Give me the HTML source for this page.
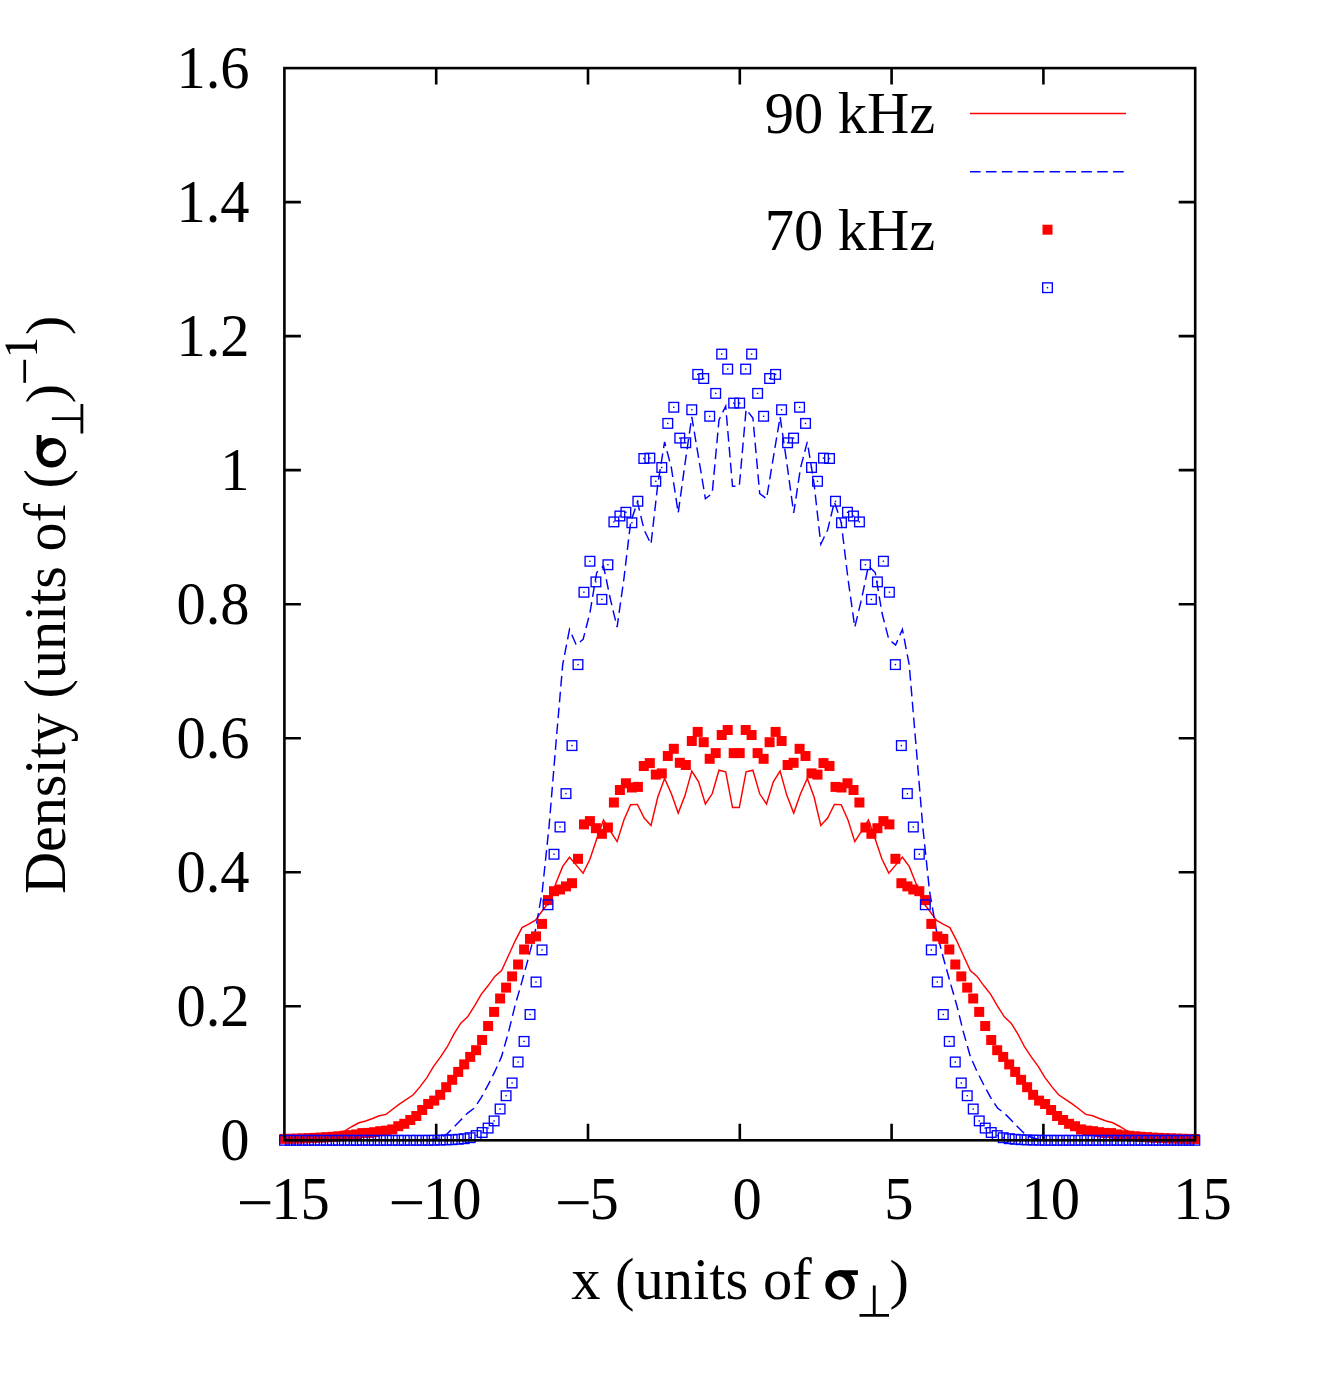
<!DOCTYPE html>
<html><head><meta charset="utf-8"><title>Density</title>
<style>html,body{margin:0;padding:0;background:#fff}svg{display:block}text{font-family:"Liberation Serif",serif;fill:#000;font-kerning:none;font-variant-ligatures:none;white-space:pre}</style></head>
<body>
<svg width="1329" height="1384" viewBox="0 0 1329 1384">
<rect width="1329" height="1384" fill="#fff"/>
<path d="M284.4 1006.27h16.5M1195.2 1006.27h-16.5M284.4 872.25h16.5M1195.2 872.25h-16.5M284.4 738.22h16.5M1195.2 738.22h-16.5M284.4 604.20h16.5M1195.2 604.20h-16.5M284.4 470.17h16.5M1195.2 470.17h-16.5M284.4 336.15h16.5M1195.2 336.15h-16.5M284.4 202.12h16.5M1195.2 202.12h-16.5M436.20 1140.3v-16.5M436.20 68.1v16.5M588.00 1140.3v-16.5M588.00 68.1v16.5M739.80 1140.3v-16.5M739.80 68.1v16.5M891.60 1140.3v-16.5M891.60 68.1v16.5M1043.40 1140.3v-16.5M1043.40 68.1v16.5" stroke="#000" fill="none" stroke-width="2.6"/>
<polyline points="284.2,1138.8 291.0,1138.3 297.8,1137.7 304.6,1137.0 311.4,1136.2 318.2,1135.5 325.0,1134.5 331.8,1133.5 338.5,1132.5 345.3,1130.6 352.1,1126.5 358.9,1122.8 365.7,1121.0 372.5,1118.5 379.3,1115.8 386.1,1114.4 392.9,1109.0 399.7,1103.8 406.5,1099.4 413.3,1094.8 420.1,1086.6 426.9,1077.6 433.6,1066.3 440.4,1057.2 447.2,1047.0 454.0,1033.8 460.8,1023.1 467.6,1016.9 474.4,1006.2 481.2,994.4 488.0,985.8 494.8,976.4 501.6,970.5 508.4,955.8 515.2,940.8 522.0,927.6 528.7,924.2 535.5,920.1 542.3,910.8 549.1,902.0 555.9,883.2 562.7,866.4 569.5,857.2 576.3,865.1 583.1,873.1 589.9,859.2 596.7,839.0 603.5,820.0 610.3,831.2 617.1,841.6 623.9,820.0 630.6,804.8 637.4,804.4 644.2,818.1 651.0,825.4 657.8,797.0 664.6,778.5 671.4,793.8 678.2,813.1 685.0,795.6 691.8,771.0 698.6,781.9 705.4,804.0 712.2,793.8 719.0,770.2 725.7,771.9 732.5,807.5 739.3,807.5 746.1,771.9 752.9,770.2 759.7,793.8 766.5,804.0 773.3,781.9 780.1,771.0 786.9,795.6 793.7,813.1 800.5,793.8 807.3,778.5 814.1,797.0 820.8,825.4 827.6,818.1 834.4,804.4 841.2,804.8 848.0,820.0 854.8,841.6 861.6,831.2 868.4,820.0 875.2,839.0 882.0,859.2 888.8,873.1 895.6,865.1 902.4,857.2 909.2,866.4 915.9,883.2 922.7,902.0 929.5,910.8 936.3,920.1 943.1,924.2 949.9,927.6 956.7,940.8 963.5,955.8 970.3,970.5 977.1,976.4 983.9,985.8 990.7,994.4 997.5,1006.2 1004.3,1016.9 1011.1,1023.1 1017.8,1033.8 1024.6,1047.0 1031.4,1057.2 1038.2,1066.3 1045.0,1077.6 1051.8,1086.6 1058.6,1094.8 1065.4,1099.4 1072.2,1103.8 1079.0,1109.0 1085.8,1114.4 1092.6,1115.8 1099.4,1118.5 1106.2,1121.0 1112.9,1122.8 1119.7,1126.5 1126.5,1130.6 1133.3,1132.5 1140.1,1133.5 1146.9,1134.5 1153.7,1135.5 1160.5,1136.2 1167.3,1137.0 1174.1,1137.7 1180.9,1138.3 1187.7,1138.8 1194.5,1139.0" fill="none" stroke="#ff0000" stroke-width="1.45" stroke-linejoin="miter"/>
<line x1="970" y1="113.5" x2="1126" y2="113.5" stroke="#ff0000" stroke-width="1.45"/>
<polyline points="284.2,1140.3 291.0,1140.3 297.8,1140.3 304.6,1140.3 311.4,1140.3 318.2,1140.3 325.0,1140.3 331.8,1140.3 338.5,1140.3 345.3,1140.3 352.1,1140.3 358.9,1140.3 365.7,1140.3 372.5,1140.3 379.3,1140.3 386.1,1140.3 392.9,1140.3 399.7,1140.3 406.5,1140.3 413.3,1140.3 420.1,1140.0 426.9,1139.7 433.6,1139.2 440.4,1137.5 447.2,1133.8 454.0,1126.9 460.8,1120.0 467.6,1113.1 474.4,1108.0 481.2,1097.6 488.0,1085.1 494.8,1071.7 501.6,1056.4 508.4,1032.5 515.2,1005.0 522.0,981.4 528.7,957.0 535.5,930.1 542.3,890.8 549.1,826.0 555.9,744.0 562.7,664.6 569.5,629.4 576.3,645.0 583.1,639.4 589.9,613.0 596.7,572.5 603.5,566.0 610.3,598.8 617.1,627.2 623.9,578.8 630.6,522.5 637.4,501.9 644.2,530.0 651.0,544.2 657.8,484.0 664.6,441.9 671.4,468.0 678.2,513.0 685.0,463.6 691.8,416.9 698.6,457.8 705.4,498.8 712.2,493.5 719.0,420.0 725.7,406.2 732.5,486.2 739.3,486.2 746.1,409.4 752.9,418.0 759.7,493.5 766.5,498.8 773.3,457.8 780.1,416.9 786.9,463.6 793.7,513.0 800.5,468.0 807.3,441.9 814.1,484.0 820.8,544.2 827.6,530.0 834.4,501.9 841.2,522.5 848.0,578.8 854.8,627.2 861.6,598.8 868.4,566.0 875.2,572.5 882.0,613.0 888.8,639.4 895.6,645.0 902.4,629.4 909.2,664.6 915.9,744.0 922.7,826.0 929.5,890.8 936.3,930.1 943.1,957.0 949.9,981.4 956.7,1005.0 963.5,1032.5 970.3,1056.4 977.1,1071.7 983.9,1085.1 990.7,1097.6 997.5,1108.0 1004.3,1113.1 1011.1,1120.0 1017.8,1126.9 1024.6,1133.8 1031.4,1137.5 1038.2,1139.2 1045.0,1139.7 1051.8,1140.0 1058.6,1140.3 1065.4,1140.3 1072.2,1140.3 1079.0,1140.3 1085.8,1140.3 1092.6,1140.3 1099.4,1140.3 1106.2,1140.3 1112.9,1140.3 1119.7,1140.3 1126.5,1140.3 1133.3,1140.3 1140.1,1140.3 1146.9,1140.3 1153.7,1140.3 1160.5,1140.3 1167.3,1140.3 1174.1,1140.3 1180.9,1140.3 1187.7,1140.3 1194.5,1140.3" fill="none" stroke="#0000ff" stroke-width="1.45" stroke-dasharray="10.6,5.3" stroke-linejoin="miter"/>
<line x1="970" y1="171.7" x2="1126" y2="171.7" stroke="#0000ff" stroke-width="1.45" stroke-dasharray="10.6,5.3"/>
<g fill="#ff0000">
<rect x="279.5" y="1133.9" width="10.0" height="10.0"/>
<rect x="285.5" y="1133.8" width="10.0" height="10.0"/>
<rect x="291.5" y="1133.6" width="10.0" height="10.0"/>
<rect x="297.5" y="1133.4" width="10.0" height="10.0"/>
<rect x="303.5" y="1133.2" width="10.0" height="10.0"/>
<rect x="309.4" y="1132.9" width="10.0" height="10.0"/>
<rect x="315.4" y="1132.6" width="10.0" height="10.0"/>
<rect x="321.4" y="1132.2" width="10.0" height="10.0"/>
<rect x="327.4" y="1131.8" width="10.0" height="10.0"/>
<rect x="333.4" y="1131.3" width="10.0" height="10.0"/>
<rect x="339.4" y="1130.8" width="10.0" height="10.0"/>
<rect x="345.4" y="1130.2" width="10.0" height="10.0"/>
<rect x="351.4" y="1129.4" width="10.0" height="10.0"/>
<rect x="357.4" y="1128.1" width="10.0" height="10.0"/>
<rect x="363.3" y="1127.9" width="10.0" height="10.0"/>
<rect x="369.3" y="1127.2" width="10.0" height="10.0"/>
<rect x="375.3" y="1126.2" width="10.0" height="10.0"/>
<rect x="381.3" y="1125.6" width="10.0" height="10.0"/>
<rect x="387.3" y="1124.4" width="10.0" height="10.0"/>
<rect x="393.3" y="1121.2" width="10.0" height="10.0"/>
<rect x="399.3" y="1118.8" width="10.0" height="10.0"/>
<rect x="405.3" y="1115.0" width="10.0" height="10.0"/>
<rect x="411.3" y="1111.0" width="10.0" height="10.0"/>
<rect x="417.2" y="1105.0" width="10.0" height="10.0"/>
<rect x="423.2" y="1099.0" width="10.0" height="10.0"/>
<rect x="429.2" y="1095.6" width="10.0" height="10.0"/>
<rect x="435.2" y="1089.8" width="10.0" height="10.0"/>
<rect x="441.2" y="1082.2" width="10.0" height="10.0"/>
<rect x="447.2" y="1074.8" width="10.0" height="10.0"/>
<rect x="453.2" y="1066.9" width="10.0" height="10.0"/>
<rect x="459.2" y="1059.4" width="10.0" height="10.0"/>
<rect x="465.2" y="1051.9" width="10.0" height="10.0"/>
<rect x="471.1" y="1045.2" width="10.0" height="10.0"/>
<rect x="477.1" y="1035.0" width="10.0" height="10.0"/>
<rect x="483.1" y="1021.0" width="10.0" height="10.0"/>
<rect x="489.1" y="1006.9" width="10.0" height="10.0"/>
<rect x="495.1" y="993.5" width="10.0" height="10.0"/>
<rect x="501.1" y="982.6" width="10.0" height="10.0"/>
<rect x="507.1" y="971.4" width="10.0" height="10.0"/>
<rect x="513.1" y="959.5" width="10.0" height="10.0"/>
<rect x="519.1" y="944.5" width="10.0" height="10.0"/>
<rect x="525.0" y="933.9" width="10.0" height="10.0"/>
<rect x="531.0" y="931.4" width="10.0" height="10.0"/>
<rect x="537.0" y="918.9" width="10.0" height="10.0"/>
<rect x="543.0" y="895.1" width="10.0" height="10.0"/>
<rect x="549.0" y="886.2" width="10.0" height="10.0"/>
<rect x="555.0" y="884.5" width="10.0" height="10.0"/>
<rect x="561.0" y="881.4" width="10.0" height="10.0"/>
<rect x="567.0" y="878.2" width="10.0" height="10.0"/>
<rect x="573.0" y="853.8" width="10.0" height="10.0"/>
<rect x="579.0" y="819.4" width="10.0" height="10.0"/>
<rect x="584.9" y="816.1" width="10.0" height="10.0"/>
<rect x="590.9" y="823.2" width="10.0" height="10.0"/>
<rect x="596.9" y="828.8" width="10.0" height="10.0"/>
<rect x="602.9" y="822.5" width="10.0" height="10.0"/>
<rect x="608.9" y="797.5" width="10.0" height="10.0"/>
<rect x="614.9" y="785.0" width="10.0" height="10.0"/>
<rect x="620.9" y="778.3" width="10.0" height="10.0"/>
<rect x="626.9" y="782.5" width="10.0" height="10.0"/>
<rect x="632.9" y="781.9" width="10.0" height="10.0"/>
<rect x="638.8" y="761.0" width="10.0" height="10.0"/>
<rect x="644.8" y="758.1" width="10.0" height="10.0"/>
<rect x="650.8" y="769.6" width="10.0" height="10.0"/>
<rect x="656.8" y="768.4" width="10.0" height="10.0"/>
<rect x="662.8" y="751.0" width="10.0" height="10.0"/>
<rect x="668.8" y="743.8" width="10.0" height="10.0"/>
<rect x="674.8" y="757.8" width="10.0" height="10.0"/>
<rect x="680.8" y="760.0" width="10.0" height="10.0"/>
<rect x="686.8" y="736.0" width="10.0" height="10.0"/>
<rect x="692.7" y="726.9" width="10.0" height="10.0"/>
<rect x="698.7" y="737.2" width="10.0" height="10.0"/>
<rect x="704.7" y="753.8" width="10.0" height="10.0"/>
<rect x="710.7" y="748.1" width="10.0" height="10.0"/>
<rect x="716.7" y="730.0" width="10.0" height="10.0"/>
<rect x="722.7" y="725.0" width="10.0" height="10.0"/>
<rect x="728.7" y="748.1" width="10.0" height="10.0"/>
<rect x="734.7" y="748.1" width="10.0" height="10.0"/>
<rect x="740.7" y="725.0" width="10.0" height="10.0"/>
<rect x="746.6" y="730.0" width="10.0" height="10.0"/>
<rect x="752.6" y="748.1" width="10.0" height="10.0"/>
<rect x="758.6" y="753.8" width="10.0" height="10.0"/>
<rect x="764.6" y="737.2" width="10.0" height="10.0"/>
<rect x="770.6" y="726.9" width="10.0" height="10.0"/>
<rect x="776.6" y="736.0" width="10.0" height="10.0"/>
<rect x="782.6" y="760.0" width="10.0" height="10.0"/>
<rect x="788.6" y="757.8" width="10.0" height="10.0"/>
<rect x="794.6" y="743.8" width="10.0" height="10.0"/>
<rect x="800.5" y="751.0" width="10.0" height="10.0"/>
<rect x="806.5" y="768.4" width="10.0" height="10.0"/>
<rect x="812.5" y="769.6" width="10.0" height="10.0"/>
<rect x="818.5" y="758.1" width="10.0" height="10.0"/>
<rect x="824.5" y="761.0" width="10.0" height="10.0"/>
<rect x="830.5" y="781.9" width="10.0" height="10.0"/>
<rect x="836.5" y="782.5" width="10.0" height="10.0"/>
<rect x="842.5" y="778.3" width="10.0" height="10.0"/>
<rect x="848.5" y="785.0" width="10.0" height="10.0"/>
<rect x="854.4" y="797.5" width="10.0" height="10.0"/>
<rect x="860.4" y="822.5" width="10.0" height="10.0"/>
<rect x="866.4" y="828.8" width="10.0" height="10.0"/>
<rect x="872.4" y="823.2" width="10.0" height="10.0"/>
<rect x="878.4" y="816.1" width="10.0" height="10.0"/>
<rect x="884.4" y="819.4" width="10.0" height="10.0"/>
<rect x="890.4" y="853.8" width="10.0" height="10.0"/>
<rect x="896.4" y="878.2" width="10.0" height="10.0"/>
<rect x="902.4" y="881.4" width="10.0" height="10.0"/>
<rect x="908.3" y="884.5" width="10.0" height="10.0"/>
<rect x="914.3" y="886.2" width="10.0" height="10.0"/>
<rect x="920.3" y="895.1" width="10.0" height="10.0"/>
<rect x="926.3" y="918.9" width="10.0" height="10.0"/>
<rect x="932.3" y="931.4" width="10.0" height="10.0"/>
<rect x="938.3" y="933.9" width="10.0" height="10.0"/>
<rect x="944.3" y="944.5" width="10.0" height="10.0"/>
<rect x="950.3" y="959.5" width="10.0" height="10.0"/>
<rect x="956.3" y="971.4" width="10.0" height="10.0"/>
<rect x="962.2" y="982.6" width="10.0" height="10.0"/>
<rect x="968.2" y="993.5" width="10.0" height="10.0"/>
<rect x="974.2" y="1006.9" width="10.0" height="10.0"/>
<rect x="980.2" y="1021.0" width="10.0" height="10.0"/>
<rect x="986.2" y="1035.0" width="10.0" height="10.0"/>
<rect x="992.2" y="1045.2" width="10.0" height="10.0"/>
<rect x="998.2" y="1051.9" width="10.0" height="10.0"/>
<rect x="1004.2" y="1059.4" width="10.0" height="10.0"/>
<rect x="1010.2" y="1066.9" width="10.0" height="10.0"/>
<rect x="1016.1" y="1074.8" width="10.0" height="10.0"/>
<rect x="1022.1" y="1082.2" width="10.0" height="10.0"/>
<rect x="1028.1" y="1089.8" width="10.0" height="10.0"/>
<rect x="1034.1" y="1095.6" width="10.0" height="10.0"/>
<rect x="1040.1" y="1099.0" width="10.0" height="10.0"/>
<rect x="1046.1" y="1105.0" width="10.0" height="10.0"/>
<rect x="1052.1" y="1111.0" width="10.0" height="10.0"/>
<rect x="1058.1" y="1115.0" width="10.0" height="10.0"/>
<rect x="1064.1" y="1118.8" width="10.0" height="10.0"/>
<rect x="1070.0" y="1121.2" width="10.0" height="10.0"/>
<rect x="1076.0" y="1124.4" width="10.0" height="10.0"/>
<rect x="1082.0" y="1125.6" width="10.0" height="10.0"/>
<rect x="1088.0" y="1126.2" width="10.0" height="10.0"/>
<rect x="1094.0" y="1127.2" width="10.0" height="10.0"/>
<rect x="1100.0" y="1127.9" width="10.0" height="10.0"/>
<rect x="1106.0" y="1128.1" width="10.0" height="10.0"/>
<rect x="1112.0" y="1129.4" width="10.0" height="10.0"/>
<rect x="1118.0" y="1130.2" width="10.0" height="10.0"/>
<rect x="1123.9" y="1130.8" width="10.0" height="10.0"/>
<rect x="1129.9" y="1131.3" width="10.0" height="10.0"/>
<rect x="1135.9" y="1131.8" width="10.0" height="10.0"/>
<rect x="1141.9" y="1132.2" width="10.0" height="10.0"/>
<rect x="1147.9" y="1132.6" width="10.0" height="10.0"/>
<rect x="1153.9" y="1132.9" width="10.0" height="10.0"/>
<rect x="1159.9" y="1133.2" width="10.0" height="10.0"/>
<rect x="1165.9" y="1133.4" width="10.0" height="10.0"/>
<rect x="1171.9" y="1133.6" width="10.0" height="10.0"/>
<rect x="1177.8" y="1133.8" width="10.0" height="10.0"/>
<rect x="1183.8" y="1133.9" width="10.0" height="10.0"/>
<rect x="1189.8" y="1134.0" width="10.0" height="10.0"/>
<rect x="1042.5" y="224.7" width="10.0" height="10.0"/>
</g>
<g fill="none" stroke="#0000ff" stroke-width="1.35">
<rect x="279.68" y="1135.47" width="9.65" height="9.65"/>
<rect x="285.66" y="1135.47" width="9.65" height="9.65"/>
<rect x="291.65" y="1135.47" width="9.65" height="9.65"/>
<rect x="297.64" y="1135.47" width="9.65" height="9.65"/>
<rect x="303.63" y="1135.47" width="9.65" height="9.65"/>
<rect x="309.62" y="1135.47" width="9.65" height="9.65"/>
<rect x="315.61" y="1135.47" width="9.65" height="9.65"/>
<rect x="321.60" y="1135.47" width="9.65" height="9.65"/>
<rect x="327.59" y="1135.47" width="9.65" height="9.65"/>
<rect x="333.58" y="1135.47" width="9.65" height="9.65"/>
<rect x="339.56" y="1135.47" width="9.65" height="9.65"/>
<rect x="345.55" y="1135.47" width="9.65" height="9.65"/>
<rect x="351.54" y="1135.47" width="9.65" height="9.65"/>
<rect x="357.53" y="1135.47" width="9.65" height="9.65"/>
<rect x="363.52" y="1135.47" width="9.65" height="9.65"/>
<rect x="369.51" y="1135.47" width="9.65" height="9.65"/>
<rect x="375.50" y="1135.47" width="9.65" height="9.65"/>
<rect x="381.49" y="1135.47" width="9.65" height="9.65"/>
<rect x="387.48" y="1135.47" width="9.65" height="9.65"/>
<rect x="393.47" y="1135.47" width="9.65" height="9.65"/>
<rect x="399.45" y="1135.47" width="9.65" height="9.65"/>
<rect x="405.44" y="1135.47" width="9.65" height="9.65"/>
<rect x="411.43" y="1135.47" width="9.65" height="9.65"/>
<rect x="417.42" y="1135.47" width="9.65" height="9.65"/>
<rect x="423.41" y="1135.47" width="9.65" height="9.65"/>
<rect x="429.40" y="1135.38" width="9.65" height="9.65"/>
<rect x="435.39" y="1135.27" width="9.65" height="9.65"/>
<rect x="441.38" y="1135.08" width="9.65" height="9.65"/>
<rect x="447.37" y="1134.88" width="9.65" height="9.65"/>
<rect x="453.36" y="1134.47" width="9.65" height="9.65"/>
<rect x="459.34" y="1133.88" width="9.65" height="9.65"/>
<rect x="465.33" y="1132.88" width="9.65" height="9.65"/>
<rect x="471.32" y="1130.77" width="9.65" height="9.65"/>
<rect x="477.31" y="1127.67" width="9.65" height="9.65"/>
<rect x="483.30" y="1123.27" width="9.65" height="9.65"/>
<rect x="489.29" y="1116.08" width="9.65" height="9.65"/>
<rect x="495.28" y="1104.17" width="9.65" height="9.65"/>
<rect x="501.27" y="1090.92" width="9.65" height="9.65"/>
<rect x="507.26" y="1078.17" width="9.65" height="9.65"/>
<rect x="513.25" y="1057.17" width="9.65" height="9.65"/>
<rect x="519.23" y="1036.58" width="9.65" height="9.65"/>
<rect x="525.22" y="1009.67" width="9.65" height="9.65"/>
<rect x="531.21" y="977.17" width="9.65" height="9.65"/>
<rect x="537.20" y="945.07" width="9.65" height="9.65"/>
<rect x="543.19" y="899.92" width="9.65" height="9.65"/>
<rect x="549.18" y="849.42" width="9.65" height="9.65"/>
<rect x="555.17" y="822.17" width="9.65" height="9.65"/>
<rect x="561.16" y="788.77" width="9.65" height="9.65"/>
<rect x="567.15" y="740.77" width="9.65" height="9.65"/>
<rect x="573.14" y="659.77" width="9.65" height="9.65"/>
<rect x="579.12" y="587.42" width="9.65" height="9.65"/>
<rect x="585.11" y="556.42" width="9.65" height="9.65"/>
<rect x="591.10" y="577.07" width="9.65" height="9.65"/>
<rect x="597.09" y="594.57" width="9.65" height="9.65"/>
<rect x="603.08" y="559.92" width="9.65" height="9.65"/>
<rect x="609.07" y="517.07" width="9.65" height="9.65"/>
<rect x="615.06" y="511.18" width="9.65" height="9.65"/>
<rect x="621.05" y="507.43" width="9.65" height="9.65"/>
<rect x="627.04" y="517.92" width="9.65" height="9.65"/>
<rect x="633.03" y="496.43" width="9.65" height="9.65"/>
<rect x="639.01" y="453.68" width="9.65" height="9.65"/>
<rect x="645.00" y="453.28" width="9.65" height="9.65"/>
<rect x="650.99" y="476.43" width="9.65" height="9.65"/>
<rect x="656.98" y="462.68" width="9.65" height="9.65"/>
<rect x="662.97" y="418.57" width="9.65" height="9.65"/>
<rect x="668.96" y="402.43" width="9.65" height="9.65"/>
<rect x="674.95" y="433.28" width="9.65" height="9.65"/>
<rect x="680.94" y="437.93" width="9.65" height="9.65"/>
<rect x="686.93" y="404.93" width="9.65" height="9.65"/>
<rect x="692.92" y="369.57" width="9.65" height="9.65"/>
<rect x="698.90" y="373.68" width="9.65" height="9.65"/>
<rect x="704.89" y="411.43" width="9.65" height="9.65"/>
<rect x="710.88" y="388.57" width="9.65" height="9.65"/>
<rect x="716.87" y="349.28" width="9.65" height="9.65"/>
<rect x="722.86" y="364.28" width="9.65" height="9.65"/>
<rect x="728.85" y="398.28" width="9.65" height="9.65"/>
<rect x="734.84" y="398.28" width="9.65" height="9.65"/>
<rect x="740.83" y="364.28" width="9.65" height="9.65"/>
<rect x="746.82" y="349.28" width="9.65" height="9.65"/>
<rect x="752.81" y="388.57" width="9.65" height="9.65"/>
<rect x="758.79" y="411.43" width="9.65" height="9.65"/>
<rect x="764.78" y="373.68" width="9.65" height="9.65"/>
<rect x="770.77" y="369.57" width="9.65" height="9.65"/>
<rect x="776.76" y="404.93" width="9.65" height="9.65"/>
<rect x="782.75" y="437.93" width="9.65" height="9.65"/>
<rect x="788.74" y="433.28" width="9.65" height="9.65"/>
<rect x="794.73" y="402.43" width="9.65" height="9.65"/>
<rect x="800.72" y="418.57" width="9.65" height="9.65"/>
<rect x="806.71" y="462.68" width="9.65" height="9.65"/>
<rect x="812.70" y="476.43" width="9.65" height="9.65"/>
<rect x="818.68" y="453.28" width="9.65" height="9.65"/>
<rect x="824.67" y="453.68" width="9.65" height="9.65"/>
<rect x="830.66" y="496.43" width="9.65" height="9.65"/>
<rect x="836.65" y="517.92" width="9.65" height="9.65"/>
<rect x="842.64" y="507.43" width="9.65" height="9.65"/>
<rect x="848.63" y="511.18" width="9.65" height="9.65"/>
<rect x="854.62" y="517.07" width="9.65" height="9.65"/>
<rect x="860.61" y="559.92" width="9.65" height="9.65"/>
<rect x="866.60" y="594.57" width="9.65" height="9.65"/>
<rect x="872.59" y="577.07" width="9.65" height="9.65"/>
<rect x="878.57" y="556.42" width="9.65" height="9.65"/>
<rect x="884.56" y="587.42" width="9.65" height="9.65"/>
<rect x="890.55" y="659.77" width="9.65" height="9.65"/>
<rect x="896.54" y="740.77" width="9.65" height="9.65"/>
<rect x="902.53" y="788.77" width="9.65" height="9.65"/>
<rect x="908.52" y="822.17" width="9.65" height="9.65"/>
<rect x="914.51" y="849.42" width="9.65" height="9.65"/>
<rect x="920.50" y="899.92" width="9.65" height="9.65"/>
<rect x="926.49" y="945.07" width="9.65" height="9.65"/>
<rect x="932.48" y="977.17" width="9.65" height="9.65"/>
<rect x="938.46" y="1009.67" width="9.65" height="9.65"/>
<rect x="944.45" y="1036.58" width="9.65" height="9.65"/>
<rect x="950.44" y="1057.17" width="9.65" height="9.65"/>
<rect x="956.43" y="1078.17" width="9.65" height="9.65"/>
<rect x="962.42" y="1090.92" width="9.65" height="9.65"/>
<rect x="968.41" y="1104.17" width="9.65" height="9.65"/>
<rect x="974.40" y="1116.08" width="9.65" height="9.65"/>
<rect x="980.39" y="1123.27" width="9.65" height="9.65"/>
<rect x="986.38" y="1127.67" width="9.65" height="9.65"/>
<rect x="992.37" y="1130.77" width="9.65" height="9.65"/>
<rect x="998.35" y="1132.88" width="9.65" height="9.65"/>
<rect x="1004.34" y="1133.88" width="9.65" height="9.65"/>
<rect x="1010.33" y="1134.47" width="9.65" height="9.65"/>
<rect x="1016.32" y="1134.88" width="9.65" height="9.65"/>
<rect x="1022.31" y="1135.08" width="9.65" height="9.65"/>
<rect x="1028.30" y="1135.27" width="9.65" height="9.65"/>
<rect x="1034.29" y="1135.38" width="9.65" height="9.65"/>
<rect x="1040.28" y="1135.47" width="9.65" height="9.65"/>
<rect x="1046.27" y="1135.47" width="9.65" height="9.65"/>
<rect x="1052.26" y="1135.47" width="9.65" height="9.65"/>
<rect x="1058.24" y="1135.47" width="9.65" height="9.65"/>
<rect x="1064.23" y="1135.47" width="9.65" height="9.65"/>
<rect x="1070.22" y="1135.47" width="9.65" height="9.65"/>
<rect x="1076.21" y="1135.47" width="9.65" height="9.65"/>
<rect x="1082.20" y="1135.47" width="9.65" height="9.65"/>
<rect x="1088.19" y="1135.47" width="9.65" height="9.65"/>
<rect x="1094.18" y="1135.47" width="9.65" height="9.65"/>
<rect x="1100.17" y="1135.47" width="9.65" height="9.65"/>
<rect x="1106.16" y="1135.47" width="9.65" height="9.65"/>
<rect x="1112.15" y="1135.47" width="9.65" height="9.65"/>
<rect x="1118.13" y="1135.47" width="9.65" height="9.65"/>
<rect x="1124.12" y="1135.47" width="9.65" height="9.65"/>
<rect x="1130.11" y="1135.47" width="9.65" height="9.65"/>
<rect x="1136.10" y="1135.47" width="9.65" height="9.65"/>
<rect x="1142.09" y="1135.47" width="9.65" height="9.65"/>
<rect x="1148.08" y="1135.47" width="9.65" height="9.65"/>
<rect x="1154.07" y="1135.47" width="9.65" height="9.65"/>
<rect x="1160.06" y="1135.47" width="9.65" height="9.65"/>
<rect x="1166.05" y="1135.47" width="9.65" height="9.65"/>
<rect x="1172.04" y="1135.47" width="9.65" height="9.65"/>
<rect x="1178.02" y="1135.47" width="9.65" height="9.65"/>
<rect x="1184.01" y="1135.47" width="9.65" height="9.65"/>
<rect x="1190.00" y="1135.47" width="9.65" height="9.65"/>
<rect x="1042.67" y="282.88" width="9.65" height="9.65"/>
</g><g fill="#0000ff">
<rect x="469.5" y="1137.0" width="1.4" height="1.4"/>
<rect x="475.4" y="1134.9" width="1.4" height="1.4"/>
<rect x="481.4" y="1131.8" width="1.4" height="1.4"/>
<rect x="487.4" y="1127.4" width="1.4" height="1.4"/>
<rect x="493.4" y="1120.2" width="1.4" height="1.4"/>
<rect x="499.4" y="1108.3" width="1.4" height="1.4"/>
<rect x="505.4" y="1095.0" width="1.4" height="1.4"/>
<rect x="511.4" y="1082.3" width="1.4" height="1.4"/>
<rect x="517.4" y="1061.3" width="1.4" height="1.4"/>
<rect x="523.4" y="1040.7" width="1.4" height="1.4"/>
<rect x="529.3" y="1013.8" width="1.4" height="1.4"/>
<rect x="535.3" y="981.3" width="1.4" height="1.4"/>
<rect x="541.3" y="949.2" width="1.4" height="1.4"/>
<rect x="547.3" y="904.0" width="1.4" height="1.4"/>
<rect x="553.3" y="853.5" width="1.4" height="1.4"/>
<rect x="559.3" y="826.3" width="1.4" height="1.4"/>
<rect x="565.3" y="792.9" width="1.4" height="1.4"/>
<rect x="571.3" y="744.9" width="1.4" height="1.4"/>
<rect x="577.3" y="663.9" width="1.4" height="1.4"/>
<rect x="583.2" y="591.5" width="1.4" height="1.4"/>
<rect x="589.2" y="560.5" width="1.4" height="1.4"/>
<rect x="595.2" y="581.2" width="1.4" height="1.4"/>
<rect x="601.2" y="598.7" width="1.4" height="1.4"/>
<rect x="607.2" y="564.0" width="1.4" height="1.4"/>
<rect x="613.2" y="521.2" width="1.4" height="1.4"/>
<rect x="619.2" y="515.3" width="1.4" height="1.4"/>
<rect x="625.2" y="511.6" width="1.4" height="1.4"/>
<rect x="631.2" y="522.0" width="1.4" height="1.4"/>
<rect x="637.2" y="500.6" width="1.4" height="1.4"/>
<rect x="643.1" y="457.8" width="1.4" height="1.4"/>
<rect x="649.1" y="457.4" width="1.4" height="1.4"/>
<rect x="655.1" y="480.6" width="1.4" height="1.4"/>
<rect x="661.1" y="466.8" width="1.4" height="1.4"/>
<rect x="667.1" y="422.7" width="1.4" height="1.4"/>
<rect x="673.1" y="406.6" width="1.4" height="1.4"/>
<rect x="679.1" y="437.4" width="1.4" height="1.4"/>
<rect x="685.1" y="442.1" width="1.4" height="1.4"/>
<rect x="691.1" y="409.1" width="1.4" height="1.4"/>
<rect x="697.0" y="373.7" width="1.4" height="1.4"/>
<rect x="703.0" y="377.8" width="1.4" height="1.4"/>
<rect x="709.0" y="415.6" width="1.4" height="1.4"/>
<rect x="715.0" y="392.7" width="1.4" height="1.4"/>
<rect x="721.0" y="353.4" width="1.4" height="1.4"/>
<rect x="727.0" y="368.4" width="1.4" height="1.4"/>
<rect x="733.0" y="402.4" width="1.4" height="1.4"/>
<rect x="739.0" y="402.4" width="1.4" height="1.4"/>
<rect x="745.0" y="368.4" width="1.4" height="1.4"/>
<rect x="750.9" y="353.4" width="1.4" height="1.4"/>
<rect x="756.9" y="392.7" width="1.4" height="1.4"/>
<rect x="762.9" y="415.6" width="1.4" height="1.4"/>
<rect x="768.9" y="377.8" width="1.4" height="1.4"/>
<rect x="774.9" y="373.7" width="1.4" height="1.4"/>
<rect x="780.9" y="409.1" width="1.4" height="1.4"/>
<rect x="786.9" y="442.1" width="1.4" height="1.4"/>
<rect x="792.9" y="437.4" width="1.4" height="1.4"/>
<rect x="798.9" y="406.6" width="1.4" height="1.4"/>
<rect x="804.8" y="422.7" width="1.4" height="1.4"/>
<rect x="810.8" y="466.8" width="1.4" height="1.4"/>
<rect x="816.8" y="480.6" width="1.4" height="1.4"/>
<rect x="822.8" y="457.4" width="1.4" height="1.4"/>
<rect x="828.8" y="457.8" width="1.4" height="1.4"/>
<rect x="834.8" y="500.6" width="1.4" height="1.4"/>
<rect x="840.8" y="522.0" width="1.4" height="1.4"/>
<rect x="846.8" y="511.6" width="1.4" height="1.4"/>
<rect x="852.8" y="515.3" width="1.4" height="1.4"/>
<rect x="858.7" y="521.2" width="1.4" height="1.4"/>
<rect x="864.7" y="564.0" width="1.4" height="1.4"/>
<rect x="870.7" y="598.7" width="1.4" height="1.4"/>
<rect x="876.7" y="581.2" width="1.4" height="1.4"/>
<rect x="882.7" y="560.5" width="1.4" height="1.4"/>
<rect x="888.7" y="591.5" width="1.4" height="1.4"/>
<rect x="894.7" y="663.9" width="1.4" height="1.4"/>
<rect x="900.7" y="744.9" width="1.4" height="1.4"/>
<rect x="906.7" y="792.9" width="1.4" height="1.4"/>
<rect x="912.6" y="826.3" width="1.4" height="1.4"/>
<rect x="918.6" y="853.5" width="1.4" height="1.4"/>
<rect x="924.6" y="904.0" width="1.4" height="1.4"/>
<rect x="930.6" y="949.2" width="1.4" height="1.4"/>
<rect x="936.6" y="981.3" width="1.4" height="1.4"/>
<rect x="942.6" y="1013.8" width="1.4" height="1.4"/>
<rect x="948.6" y="1040.7" width="1.4" height="1.4"/>
<rect x="954.6" y="1061.3" width="1.4" height="1.4"/>
<rect x="960.6" y="1082.3" width="1.4" height="1.4"/>
<rect x="966.5" y="1095.0" width="1.4" height="1.4"/>
<rect x="972.5" y="1108.3" width="1.4" height="1.4"/>
<rect x="978.5" y="1120.2" width="1.4" height="1.4"/>
<rect x="984.5" y="1127.4" width="1.4" height="1.4"/>
<rect x="990.5" y="1131.8" width="1.4" height="1.4"/>
<rect x="996.5" y="1134.9" width="1.4" height="1.4"/>
<rect x="1002.5" y="1137.0" width="1.4" height="1.4"/>
<rect x="1046.8" y="287.0" width="1.4" height="1.4"/>
</g>
<rect x="284.4" y="68.1" width="910.8" height="1072.2" stroke="#000" fill="none" stroke-width="2.6"/>
<g font-size="58.5">
<text transform="translate(249.60,1160.15) scale(1,1.04)" text-anchor="end" >0</text>
<text transform="translate(249.60,1026.12) scale(1,1.04)" text-anchor="end" >0.2</text>
<text transform="translate(249.60,892.10) scale(1,1.04)" text-anchor="end" >0.4</text>
<text transform="translate(249.60,758.07) scale(1,1.04)" text-anchor="end" >0.6</text>
<text transform="translate(249.60,624.05) scale(1,1.04)" text-anchor="end" >0.8</text>
<text transform="translate(249.60,490.02) scale(1,1.04)" text-anchor="end" >1</text>
<text transform="translate(249.60,356.00) scale(1,1.04)" text-anchor="end" >1.2</text>
<text transform="translate(249.60,221.97) scale(1,1.04)" text-anchor="end" >1.4</text>
<text transform="translate(249.60,87.95) scale(1,1.04)" text-anchor="end" >1.6</text>
<rect x="239.99" y="1201.15" width="30.32" height="3.1"/>
<text transform="translate(271.21,1218.50) scale(1,1.04)" text-anchor="start" >15</text>
<rect x="391.79" y="1201.15" width="30.32" height="3.1"/>
<text transform="translate(423.01,1218.50) scale(1,1.04)" text-anchor="start" >10</text>
<rect x="558.22" y="1201.15" width="30.32" height="3.1"/>
<text transform="translate(589.43,1218.50) scale(1,1.04)" text-anchor="start" >5</text>
<text transform="translate(747.10,1218.50) scale(1,1.04)" text-anchor="middle" >0</text>
<text transform="translate(898.90,1218.50) scale(1,1.04)" text-anchor="middle" >5</text>
<text transform="translate(1050.70,1218.50) scale(1,1.04)" text-anchor="middle" >10</text>
<text transform="translate(1202.50,1218.50) scale(1,1.04)" text-anchor="middle" >15</text>
<text transform="translate(935.30,133.00) scale(1,1.01)" text-anchor="end" >90 kHz</text>
<text transform="translate(935.30,249.50) scale(1,1.01)" text-anchor="end" >70 kHz</text>
<g transform="translate(0,1298.6)">
<text id="xt" x="571.2" y="0">x (units of </text>
<ellipse cx="840.05" cy="-13.7" rx="14.75" ry="14.75"/><path d="M838.30 -28.45H857.90V-23.6H843.30Z"/><ellipse cx="840.30" cy="-12.0" rx="8.2" ry="10.6" fill="#fff" transform="rotate(-18 840.30 -12.0)"/>
<path fill="none" stroke="#000" stroke-width="2.8" d="M859.50 16.8h29.5M874.25 16.8V-13.2"/>
<text transform="translate(889.4,-14.3) scale(1,0.93) translate(0,14.3)">)</text>
</g>
<g transform="translate(65.1,892.9) rotate(-90)">
<text id="yt" x="-1.2" y="0" font-size="58.2">Density (units of (</text>
<ellipse cx="440.05" cy="-13.7" rx="14.75" ry="14.75"/><path d="M438.30 -28.45H457.90V-23.6H443.30Z"/><ellipse cx="440.30" cy="-12.0" rx="8.2" ry="10.6" fill="#fff" transform="rotate(-18 440.30 -12.0)"/>
<path fill="none" stroke="#000" stroke-width="2.8" d="M459.50 16.8h29.5M474.25 16.8V-13.2"/>
<text transform="translate(489.3,-14.3) scale(1,0.93) translate(0,14.3)">)</text>
<rect x="510.1" y="-41.75" width="23" height="2.7"/>
<path transform="translate(546.3,-28.1)" d="M-7.6 -27.3L1.2 -31.6H2.1V-4Q2.1 -1 6.8 -0.9V0H-6.8V-0.9Q-2.1 -1 -2.1 -4V-25.4Q-2.1 -27.8 -3.7 -27.4L-7.3 -26.3Z"/>
<text transform="translate(557.7,-14.3) scale(1,0.93) translate(0,14.3)">)</text>
</g>
</g>
</svg></body></html>
